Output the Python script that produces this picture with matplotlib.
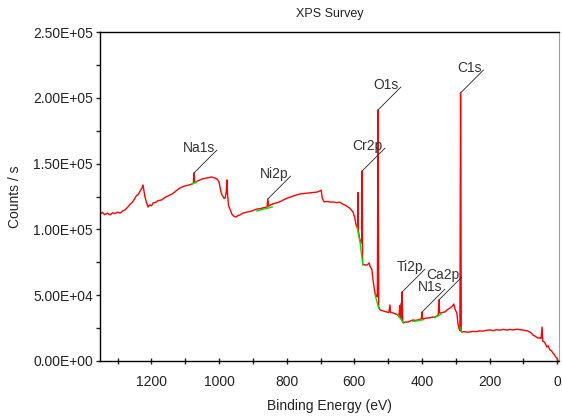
import numpy as np
import matplotlib
matplotlib.use('Agg')
import matplotlib.pyplot as plt
from matplotlib.ticker import MultipleLocator, FuncFormatter

plt.rcParams['font.family'] = ['Liberation Sans', 'DejaVu Sans']

# survey spectrum (binding energy eV, counts/s)
energy = [1352, 1345, 1338, 1330, 1322, 1315, 1308, 1300, 1292, 1285, 1278, 1270, 1262, 1258,
          1250, 1244, 1240, 1234, 1228, 1225, 1222, 1219, 1214, 1210, 1205, 1200, 1195, 1188,
          1180, 1169, 1160, 1150, 1139, 1130, 1120, 1110, 1100, 1090, 1080, 1076, 1074, 1072,
          1065, 1058, 1050, 1040, 1030, 1021, 1012, 1006, 1000, 997, 994, 991, 985, 982, 979,
          977, 975, 972, 967, 962, 956, 950, 944, 938, 930, 917, 905, 895, 888, 878, 866, 858,
          856, 853, 849, 840, 830, 820, 810, 800, 790, 780, 770, 761, 750, 740, 731, 720, 710,
          702, 698, 695, 690, 680, 670, 663, 653, 643, 635, 628, 620, 613, 608, 604, 600, 597,
          595, 592, 590, 589, 588, 585, 583, 580, 578, 577, 575.5, 570, 563, 556, 554, 548, 545,
          541, 539, 535, 532, 530, 528, 524, 515, 504, 498, 495, 493, 486, 478, 471, 468, 466,
          464, 461, 460, 459, 457, 455, 450, 442, 435, 427, 420, 412, 406, 402, 400, 398, 390,
          382, 375, 368, 362, 356, 352, 350, 348, 344, 338, 332, 325, 317, 310, 306, 302, 297,
          294, 291, 288, 286, 285, 284, 282, 275, 265, 255, 249, 240, 230, 220, 210, 199, 190,
          180, 170, 160, 149, 140, 130, 120, 110, 102, 95, 88, 81, 76, 72, 65, 58, 51, 48, 45,
          43, 38, 33, 31, 27, 22, 18, 13, 8, 4, 1, -2]
counts = [111700, 112900, 111200, 112300, 111000, 112600, 112000, 113100, 112400, 114000,
          114800, 116900, 119500, 120100, 123000, 125800, 126200, 128900, 131500, 133800,
          129000, 124600, 120000, 117000, 118600, 118000, 120100, 120500, 121900, 122400,
          124300, 125500, 126900, 128600, 130800, 132200, 133100, 133600, 134500, 135000,
          142900, 135300, 136600, 137400, 138300, 138900, 139400, 139800, 139000, 138300,
          136000, 132200, 128000, 126000, 123500, 123900, 128000, 137600, 127000, 118000,
          115000, 111500, 110000, 109400, 110500, 111000, 112300, 113200, 113800, 114800,
          115500, 115800, 116600, 117000, 123100, 117600, 118400, 119500, 120200, 121000,
          122400, 123600, 124500, 125400, 126300, 126900, 127200, 127500, 127700, 128100,
          128400, 129200, 129800, 124000, 121000, 121200, 120700, 120800, 120400, 120600,
          119300, 118500, 117300, 116000, 114500, 113200, 110000, 106000, 103500, 101800,
          100500, 128000, 99000, 93500, 92000, 90500, 89700, 144400, 73500, 73000, 72900,
          74500, 72200, 69200, 61600, 55000, 51700, 49500, 48600, 190800, 41000, 38800,
          38000, 37200, 36800, 42600, 37000, 36500, 35800, 35000, 33500, 42000, 33000,
          44000, 32000, 52400, 30000, 29000, 29600, 29600, 30400, 31200, 30800, 31200,
          31700, 32000, 37200, 31600, 32500, 32700, 33000, 33300, 33400, 34200, 35000,
          46400, 36500, 36500, 37000, 37300, 39000, 40300, 41800, 43300, 39000, 36500,
          28900, 25000, 23000, 203700, 128000, 22500, 22040, 22300, 21900, 22200, 22500,
          22300, 22900, 22700, 23300, 23600, 23000, 23800, 23400, 24000, 23500, 24000,
          23600, 24200, 23800, 23500, 23200, 22800, 22000, 21000, 19700, 18800, 17500,
          17500, 17200, 25800, 15000, 14400, 12000, 10600, 11500, 8400, 8000, 6100, 4500,
          2800, 2300, 0]

# background fits under the peaks (green)
bg_energy = [[1080, 1065], [888, 843], [592, 583, 575], [539, 528], [471, 455],
             [427, 398], [362, 344], [288, 282]]
bg_counts = [[134500, 136200], [114000, 117000], [101800, 90000, 73000], [50500, 40000],
             [35000, 28900], [30000, 31200], [33000, 35500], [25800, 22040]]

# peak labels
peak_names = ['Na1s', 'Ni2p', 'Cr2p', 'O1s', 'Ti2p', 'N1s', 'Ca2p', 'C1s']
peak_energy = [1074, 856, 577, 530, 459, 400, 350, 286]
peak_counts = [142900, 123100, 144400, 190800, 52400, 37200, 46400, 203700]

fig = plt.figure(figsize=(5.62, 4.17), dpi=100)
ax = fig.add_axes([100 / 562, 1 - 361 / 417, 459 / 562, 329 / 417])

ax.plot(energy, counts, color='#ff0000', lw=1.0)
for e, c in zip(bg_energy, bg_counts):
    ax.plot(e, c, color='#00dd00', lw=1.0)

for name, e, c in zip(peak_names, peak_energy, peak_counts):
    # leader line from the peak top, then the label just left of its end
    ax.annotate('', xy=(e, c), xytext=(16.5, 16.5), textcoords='offset points',
                arrowprops=dict(arrowstyle='-', color='#222222', lw=0.6,
                                shrinkA=0, shrinkB=0))
    ax.annotate(name, xy=(e, c), xytext=(15, 15.3), textcoords='offset points',
                ha='right', va='baseline', fontsize=10, color='#333333')

ax.set_xlim(1352, -5)
ax.set_ylim(0, 250000)
ax.xaxis.set_major_locator(MultipleLocator(200))
ax.xaxis.set_minor_locator(MultipleLocator(100))
ax.yaxis.set_major_locator(MultipleLocator(50000))
ax.yaxis.set_minor_locator(MultipleLocator(25000))
ax.yaxis.set_major_formatter(FuncFormatter(lambda v, p: '{:.2E}'.format(v)))

ax.tick_params(axis='x', which='both', direction='inout', length=4, width=1,
               labelsize=10, pad=8, colors='#222222')
ax.tick_params(axis='y', which='both', direction='out', length=3, width=1,
               labelsize=10, pad=2, colors='#222222')
ax.spines['right'].set_color('#a0a0a0')
for s in ['left', 'bottom', 'top']:
    ax.spines[s].set_linewidth(1.0)

ax.set_title('XPS Survey', fontsize=9, color='#222222', pad=11)
ax.set_xlabel('Binding Energy (eV)', fontsize=10, color='#222222', labelpad=7)
ax.set_ylabel('Counts / s', fontsize=10, color='#222222', labelpad=8)

fig.savefig('out.png', dpi=100)
